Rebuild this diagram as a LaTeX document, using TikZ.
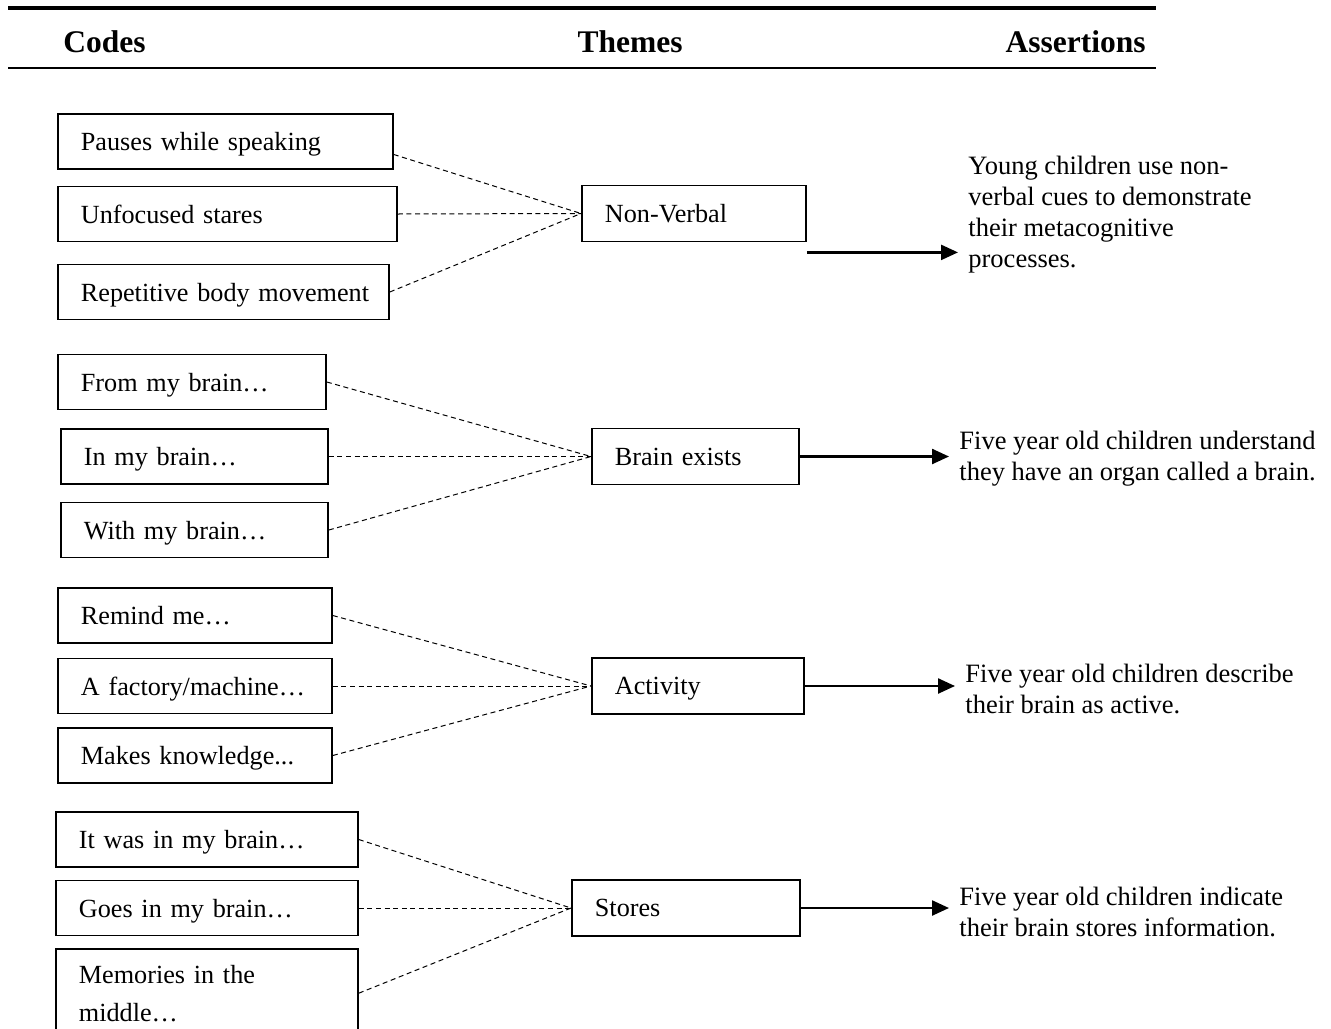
\documentclass[tikz,border=0pt]{standalone}
\usepackage{fontspec}
\setmainfont{Liberation Serif}
\usetikzlibrary{arrows.meta}
\newcommand*{\boxht }{27.5pt}
\newcommand*{\padx  }{11.5pt}
\newcommand*{\txtfnt}{\fontsize{13.25}{15.5}\selectfont}
\newcommand*{\boxfnt}{\fontsize{13.1}{15.5}\selectfont}
\newcommand*{\hdfnt }{\fontsize{15.75}{18}\selectfont\bfseries}

\begin{document}
\begin{tikzpicture}[x=0.5pt, y=-0.5pt, font=\txtfnt,
    code/.style={draw, line width=0.9pt, anchor=west, align=left, font=\boxfnt, text width=#1, text depth=0pt, minimum height=\boxht, inner xsep=\padx},
    theme/.style={draw, line width=0.9pt, anchor=west, align=left, font=\boxfnt, text width=#1, text depth=0pt, minimum height=28pt, inner xsep=\padx},
    claim/.style={anchor=west, align=left, inner xsep=5pt, inner ysep=0pt},
    head/.style={font=\hdfnt, inner sep=0pt},
    link/.style={dash pattern=on 2.5pt off 1.8pt, line width=0.5pt},
    arr/.style={-{Triangle[length=8.5pt,width=7.5pt]}, line width=1.2pt}]
    \clip (0,0) rectangle (1331,1028);
    % header
    \draw [line width=1.6pt] (8,8) -- (1156,8);
    \draw [line width=1pt] (8,68) -- (1156,68);
    \node [head, anchor=base west] (hcodes)  at (63,52.5)   {Codes};
    \node [head, anchor=base]      (hthemes) at (630,52.5)  {Themes};
    \node [head, anchor=base east] (hclaims) at (1146,52.5) {Assertions};
    % non-verbal
    \node [code=144.5pt] (pause) at (57,141.5) {Pauses while speaking};
    \node [code=146.5pt] (stare) at (57,214)   {Unfocused stares};
    \node [code=142.5pt] (move)  at (57,292)   {\mbox{Repetitive body movement}};
    \node [theme=89pt] (nonverbal) at (581,213.5) {Non-Verbal};
    \node [claim] (youngkids) at (958,214.5) {Young children use non-\\verbal cues to demonstrate\\their metacognitive\\processes.};
    \draw [link] ([yshift=-6.5pt]pause.east) -- (nonverbal.west);
    \draw [link] (stare.east) -- (nonverbal.west);
    \draw [link] (move.east)  -- (nonverbal.west);
    \coordinate (nvout) at ([yshift=-5pt]nonverbal.south east);
    \draw [arr] (nvout) -- (nvout -| youngkids.west);
    % brain exists
    \node [code=111pt]   (frombrain) at (57,382)   {From my brain…};
    \node [code=110.5pt] (inbrain)   at (60,456.5) {In my brain…};
    \node [code=110.5pt] (withbrain) at (60,530)   {With my brain…};
    \node [theme=80.5pt] (exists) at (591,456.5) {Brain exists};
    \node [claim] (organ) at (949,458.5) {Five year old children understand\\they have an organ called a brain.};
    \draw [link] (frombrain.east) -- (exists.west);
    \draw [link] (inbrain.east)   -- (exists.west);
    \draw [link] (withbrain.east) -- (exists.west);
    \draw [arr] (exists.east) -- (exists.east -| organ.west);
    % activity
    \node [code=114pt] (remind)  at (57,615.5) {Remind me…};
    \node [code=114pt] (factory) at (57,686)   {A factory/machine…};
    \node [code=114pt] (makes)   at (57,755.5) {Makes knowledge...};
    \node [theme=83pt] (activity) at (591,686) {Activity};
    \node [claim] (active) at (955,688.5) {Five year old children describe\\their brain as active.};
    \draw [link] (remind.east)  -- (activity.west);
    \draw [link] (factory.east) -- (activity.west);
    \draw [link] (makes.east)   -- (activity.west);
    \draw [arr] (activity.east) -- (activity.east -| active.west);
    % stores
    \node [code=128pt] (wasin)  at (55,839.5) {It was in my brain…};
    \node [code=128pt] (goesin) at (55,908)   {Goes in my brain…};
    \node [code=128pt, text depth=, anchor=north west, inner ysep=8pt] (memories) at (55,948) {Memories in the\\[3.5pt]middle…};
    \node [theme=91pt] (stores) at (571,908) {Stores};
    \node [claim] (storesinfo) at (949,911.5) {Five year old children indicate\\their brain stores information.};
    \draw [link] (wasin.east)    -- (stores.west);
    \draw [link] (goesin.east)   -- (stores.west);
    \draw [link] (memories.east) -- (stores.west);
    \draw [arr] (stores.east) -- (stores.east -| storesinfo.west);
\end{tikzpicture}
\end{document}
